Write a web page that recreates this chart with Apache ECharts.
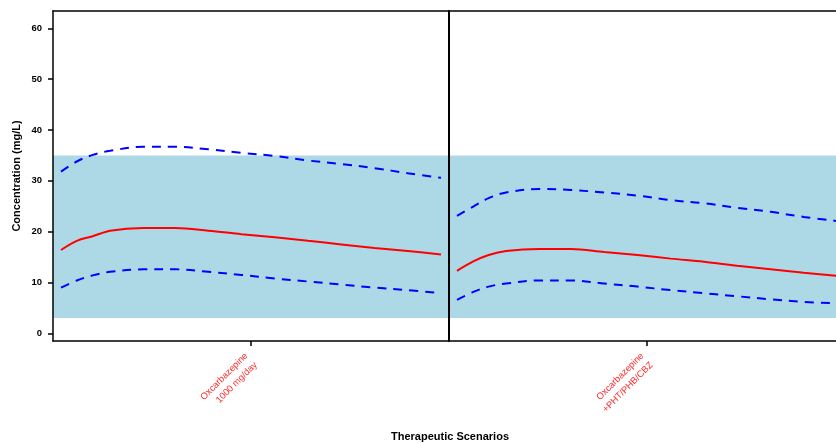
<!DOCTYPE html>
<html>
<head>
<meta charset="utf-8">
<script src="https://cdn.jsdelivr.net/npm/echarts@6/dist/echarts.min.js"></script>
<style>html,body{margin:0;padding:0;background:#fff;}#c{width:836px;height:443px;}</style>
</head>
<body>
<div id="c"></div>
<script>
const categories = ['Oxcarbazepine\n1000 mg/day', 'Oxcarbazepine\n+PHT/PHB/CBZ'];
const yTicks = [0, 10, 20, 30, 40, 50, 60];
const timePoints = [0, 1, 2, 3.1, 5.2, 7.2, 9.3, 11.4, 13.5, 15.6, 17.7, 19.8, 21.9, 24];
const medianA = [16.4, 18.2, 19.1, 20.2, 20.7, 20.7, 20.2, 19.5, 18.9, 18.2, 17.5, 16.8, 16.2, 15.5];
const upperA  = [31.8, 33.8, 35.1, 35.9, 36.7, 36.7, 36.2, 35.5, 34.9, 34.0, 33.3, 32.5, 31.5, 30.6];
const lowerA  = [9.0, 10.4, 11.4, 12.1, 12.6, 12.6, 12.1, 11.5, 10.8, 10.2, 9.6, 9.0, 8.5, 7.9];
const medianB = [12.3, 14.1, 15.4, 16.2, 16.6, 16.6, 16.0, 15.4, 14.7, 14.1, 13.3, 12.6, 11.9, 11.3];
const upperB  = [23.1, 24.9, 26.6, 27.7, 28.4, 28.2, 27.7, 27.1, 26.2, 25.6, 24.7, 23.9, 22.9, 22.1];
const lowerB  = [6.6, 8.1, 9.2, 9.8, 10.4, 10.4, 9.8, 9.2, 8.5, 7.9, 7.3, 6.7, 6.2, 5.9];
const targetRange = [3, 35];

const FONT = 'Liberation Sans';
const pairs = vals => vals.map((v, i) => [timePoints[i], v]);

function valueX(g) {
  return { gridIndex: g, type: 'value', min: -0.505, max: 24.505, show: false };
}
function catX(g, label) {
  return {
    gridIndex: g, type: 'category', data: [label], position: 'bottom', boundaryGap: true, z: 10,
    axisLine: { show: true, onZero: false, lineStyle: { color: '#000', width: 1.5 } },
    axisTick: { show: true, alignWithLabel: true, length: 5, lineStyle: { color: '#000', width: 1.5 } },
    axisLabel: { interval: 0, rotate: 45, color: '#ff2a2a', fontSize: 9.3, lineHeight: 13, margin: 18, fontFamily: FONT },
    splitLine: { show: false }
  };
}
function topX(g) {
  return {
    gridIndex: g, type: 'category', data: [''], position: 'top', z: 10,
    axisLine: { show: true, onZero: false, lineStyle: { color: '#000', width: 1.5 } },
    axisTick: { show: false }, axisLabel: { show: false }, splitLine: { show: false }
  };
}
function lineSeries(g, vals, color, dashed, band) {
  const s = {
    type: 'line', xAxisIndex: g, yAxisIndex: g, data: pairs(vals),
    smooth: 0.35, symbol: 'none', silent: true,
    lineStyle: { color: color, width: 2, type: dashed ? [9, 7] : 'solid' }
  };
  if (band) {
    s.markArea = { silent: true, itemStyle: { color: '#ADD8E6' },
      data: [[{ yAxis: targetRange[0] }, { yAxis: targetRange[1] }]] };
  }
  return s;
}

const chart = echarts.init(document.getElementById('c'), null, { renderer: 'canvas' });
chart.setOption({
  animation: false,
  backgroundColor: '#fff',
  title: {
    text: 'Therapeutic Scenarios', left: 450, top: 431, textAlign: 'center', padding: 0,
    textStyle: { fontSize: 11, fontWeight: 'bold', color: '#000', fontFamily: FONT }
  },
  grid: [
    { left: 53, top: 11, width: 396, height: 330, outerBoundsMode: 'none', containLabel: false },
    { left: 449, top: 11, width: 396, height: 330, outerBoundsMode: 'none', containLabel: false }
  ],
  xAxis: [valueX(0), valueX(1), catX(0, categories[0]), catX(1, categories[1]), topX(0), topX(1)],
  yAxis: [
    {
      gridIndex: 0, type: 'value', min: -1.5, max: 63.4, z: 10,
      name: 'Concentration (mg/L)', nameLocation: 'middle', nameGap: 31,
      nameTextStyle: { fontSize: 11, fontWeight: 'bold', color: '#000', fontFamily: FONT },
      axisLine: { show: true, onZero: false, lineStyle: { color: '#000', width: 1.5 } },
      axisTick: { show: true, length: 5, customValues: yTicks, lineStyle: { color: '#000', width: 1.5 } },
      axisLabel: { customValues: yTicks, fontSize: 9.5, fontWeight: 'bold', color: '#000', margin: 11, fontFamily: FONT },
      splitLine: { show: false }
    },
    {
      gridIndex: 1, type: 'value', min: -1.5, max: 63.4, z: 10,
      axisLine: { show: true, onZero: false, lineStyle: { color: '#000', width: 2 } },
      axisTick: { show: false }, axisLabel: { show: false }, splitLine: { show: false }
    }
  ],
  series: [
    lineSeries(0, lowerA, '#0000ff', true, true),
    lineSeries(0, upperA, '#0000ff', true, false),
    lineSeries(0, medianA, '#ff0000', false, false),
    lineSeries(1, lowerB, '#0000ff', true, true),
    lineSeries(1, upperB, '#0000ff', true, false),
    lineSeries(1, medianB, '#ff0000', false, false)
  ]
});
</script>
</body>
</html>
